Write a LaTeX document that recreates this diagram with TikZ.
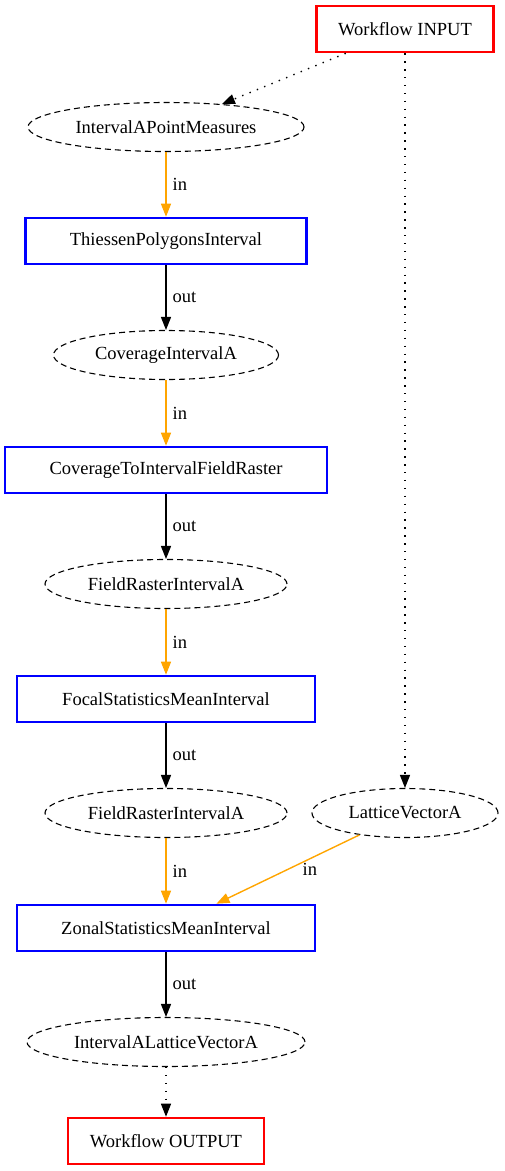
\documentclass[tikz,border=0pt]{standalone}
\usepackage{fontspec}
\setmainfont{Liberation Serif}
\usetikzlibrary{arrows.meta,positioning,shapes}
\definecolor{gvorange}{HTML}{FFA500}
\tikzstyle{task} = [draw=blue,line width=2.6pt,minimum height=46pt,inner sep=0pt]
\tikzstyle{port} = [draw=red,line width=2.6pt,minimum height=46pt,inner sep=0pt]
\tikzstyle{data} = [draw,ellipse,dash pattern=on 6pt off 4pt,line width=1.1pt,minimum height=49pt,inner sep=0pt]
\tikzstyle{input} = [-{Triangle[length=13pt,width=10pt]},gvorange,line width=1.4pt]
\tikzstyle{output} = [-{Triangle[length=13pt,width=10pt]},black,line width=1.4pt]
\tikzstyle{link} = [-{Triangle[length=13pt,width=10pt]},black,dash pattern=on 1.4pt off 6.5pt,line width=1.4pt]
\tikzstyle{lbl} = [right,text=black,inner sep=6pt]

\begin{document}
\begin{tikzpicture}[x=1pt,y=-1pt,font=\fontsize{18.5}{21}\selectfont]
		\useasboundingbox (0,0) rectangle (504,1171);

		\node (win)[port,minimum width=177pt] at (405,29) {Workflow INPUT};
		\node (pm)[data,minimum width=276pt] at (166,127) {IntervalAPointMeasures};
		\node (tp)[task,minimum width=281pt] at (166,241) {ThiessenPolygonsInterval};
		\node (cov)[data,minimum width=225pt] at (166,355) {CoverageIntervalA};
		\node (ctf)[task,minimum width=322pt] at (166,470) {CoverageToIntervalFieldRaster};
		\node (fr1)[data,minimum width=242pt] at (166,584) {FieldRasterIntervalA};
		\node (fsm)[task,minimum width=298pt] at (166,699) {FocalStatisticsMeanInterval};
		\node (fr2)[data,minimum width=242pt] at (166,813) {FieldRasterIntervalA};
		\node (lv)[data,minimum width=186pt] at (405,813) {LatticeVectorA};
		\node (zsm)[task,minimum width=298pt] at (166,928) {ZonalStatisticsMeanInterval};
		\node (lva)[data,minimum width=278pt] at (166,1042) {IntervalALatticeVectorA};
		\node (wout)[port,minimum width=196pt] at (166,1141) {Workflow OUTPUT};

		\draw[link] (win) -- (pm);
		\draw[link] (win) -- (lv);
		\draw[input] (pm) -- node (l1)[lbl] {in} (tp);
		\draw[output] (tp) -- node (l2)[lbl] {out} (cov);
		\draw[input] (cov) -- node (l3)[lbl] {in} (ctf);
		\draw[output] (ctf) -- node (l4)[lbl] {out} (fr1);
		\draw[input] (fr1) -- node (l5)[lbl] {in} (fsm);
		\draw[output] (fsm) -- node (l6)[lbl] {out} (fr2);
		\draw[input] (fr2) -- node (l7)[lbl] {in} (zsm);
		\draw[input] (lv) -- node (l8)[lbl,inner sep=14pt] {in} (zsm);
		\draw[output] (zsm) -- node (l9)[lbl] {out} (lva);
		\draw[link] (lva) -- (wout);
	\end{tikzpicture}
\end{document}
